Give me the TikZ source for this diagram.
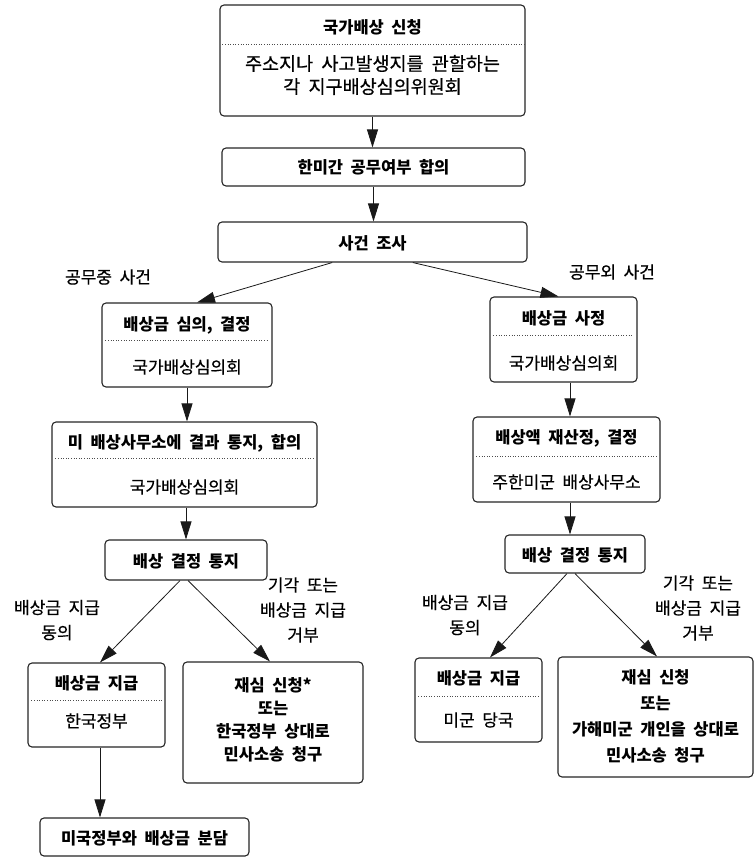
\documentclass[tikz,border=0pt]{standalone}
\usepackage{fontspec}
\setmainfont{Noto Sans CJK KR}[WordSpace=2]
\newfontfamily\medfont{Noto Sans CJK KR}[WordSpace=2,FakeBold=0.5]
\usetikzlibrary{arrows.meta,calc}
\tikzset{
  box/.style={draw=black!85, line width=1.1pt, rounded corners=4pt, inner sep=0pt, fill=white},
  ttl/.style={font=\fontsize{16.5}{20}\selectfont\bfseries, inner sep=0pt, text=black},
  sub/.style={font=\medfont\fontsize{17}{20}\selectfont, inner sep=0pt, text=black},
  lbl/.style={font=\medfont\fontsize{17}{25}\selectfont, align=center, inner sep=0pt, text=black},
  mlt/.style={font=\fontsize{16.5}{23}\selectfont\bfseries, align=center, inner sep=0pt, text=black},
  dotsep/.style={dotted, line width=0.6pt, black!70},
  arr/.style={line width=0.8pt, draw=black!90, -{Triangle[length=18pt,width=11pt]}},
}
\begin{document}
\begin{tikzpicture}[x=1pt,y=-1pt]
\useasboundingbox (0,0) rectangle (755,857);
% boxes
\node[box, minimum width=305pt, minimum height=111pt] (b1) at (372.5,60.5) {};
\node[box, minimum width=303pt, minimum height=38pt] (b2) at (373.5,167) {};
\node[box, minimum width=309pt, minimum height=40pt] (b3) at (372.5,242) {};
\node[box, minimum width=170pt, minimum height=84pt] (b4) at (187,345) {};
\node[box, minimum width=265pt, minimum height=85pt] (b5) at (184.5,464.5) {};
\node[box, minimum width=162pt, minimum height=40pt] (b6) at (186,560) {};
\node[box, minimum width=137pt, minimum height=84pt] (b7) at (96.5,705) {};
\node[box, minimum width=180pt, minimum height=121pt] (b8) at (273,722.5) {};
\node[box, minimum width=209pt, minimum height=38pt] (b9) at (144.5,837) {};
\node[box, minimum width=147pt, minimum height=85pt] (r4) at (563.5,339.5) {};
\node[box, minimum width=187pt, minimum height=85pt] (r5) at (566.5,459.5) {};
\node[box, minimum width=140pt, minimum height=38pt] (r6) at (575,554) {};
\node[box, minimum width=127pt, minimum height=84pt] (r7) at (478.5,700) {};
\node[box, minimum width=195pt, minimum height=120pt] (r8) at (655.5,717) {};
% texts
\node[ttl] (b1t) at (372.5,27) {국가배상 신청};
\node[sub, font=\medfont\fontsize{18.5}{23}\selectfont, align=center] (b1s) at (372.5,75) {주소지나 사고발생지를 관할하는\\각 지구배상심의위원회};
\node[ttl] (b2t) at (373.5,167) {한미간 공무여부 합의};
\node[ttl] (b3t) at (372.5,243) {사건 조사};
\node[ttl] (b4t) at (187,325) {배상금 심의, 결정};
\node[sub] (b4s) at (187,367) {국가배상심의회};
\node[ttl] (b5t) at (184.5,443) {미 배상사무소에 결과 통지, 합의};
\node[sub] (b5s) at (184.5,487) {국가배상심의회};
\node[ttl] (b6t) at (186,561) {배상 결정 통지};
\node[ttl] (b7t) at (96.5,683) {배상금 지급};
\node[sub] (b7s) at (96.5,721) {한국정부};
\node[mlt] (b8t) at (273,720) {재심 신청*\\또는\\한국정부 상대로\\민사소송 청구};
\node[ttl] (b9t) at (144.5,838) {미국정부와 배상금 분담};
\node[ttl] (r4t) at (563.5,318) {배상금 사정};
\node[sub] (r4s) at (563.5,363) {국가배상심의회};
\node[ttl] (r5t) at (566.5,438) {배상액 재산정, 결정};
\node[sub] (r5s) at (566.5,482) {주한미군 배상사무소};
\node[ttl] (r6t) at (575,555) {배상 결정 통지};
\node[ttl] (r7t) at (478.5,678) {배상금 지급};
\node[sub] (r7s) at (478.5,720) {미군 당국};
\node[mlt, font=\fontsize{16.5}{26}\selectfont\bfseries] (r8t) at (655.5,716) {재심 신청\\또는\\가해미군 개인을 상대로\\민사소송 청구};
% dotted separators
\draw[dotsep] ($(b1.north west)+(3,40)$) -- ($(b1.north east)+(0,40)$);
\draw[dotsep] ($(b4.north west)+(4,38)$) -- ($(b4.north east)+(-4,38)$);
\draw[dotsep] ($(b5.north west)+(4,37)$) -- ($(b5.north east)+(-4,37)$);
\draw[dotsep] ($(b7.north west)+(4,38)$) -- ($(b7.north east)+(-4,38)$);
\draw[dotsep] ($(r4.north west)+(4,39)$) -- ($(r4.north east)+(-4,39)$);
\draw[dotsep] ($(r5.north west)+(4,40)$) -- ($(r5.north east)+(-4,40)$);
\draw[dotsep] ($(r7.north west)+(4,39)$) -- ($(r7.north east)+(-4,39)$);
% edge labels
\node[lbl] (l1) at (108,277) {공무중 사건};
\node[lbl] (l2) at (612,272) {공무외 사건};
\node[lbl] (l3) at (57,620) {배상금 지급\\동의};
\node[lbl] (l4) at (303,610) {기각 또는\\배상금 지급\\거부};
\node[lbl] (l5) at (465,615) {배상금 지급\\동의};
\node[lbl] (l6) at (698,608) {기각 또는\\배상금 지급\\거부};
% connectors
\draw[arr] (b1.south) -- (b1.south |- b2.north);
\draw[arr] (b2.south) -- (b2.south |- b3.north);
\draw[arr] ($(b3.south west)!0.37!(b3.south east)$) -- ($(b4.north)+(10,0)$);
\draw[arr] ($(b3.south west)!0.63!(b3.south east)$) -- ($(r4.north)+(-5,0)$);
\draw[arr] (b4.south) -- (b4.south |- b5.north);
\draw[arr] (b6.north |- b5.south) -- (b6.north);
\draw[arr] ($(b6.south)+(-6,0)$) -- ($(b7.north)+(3.5,0)$);
\draw[arr] ($(b6.south)+(2,0)$) -- ($(b8.north)+(-3,0)$);
\draw[arr] ($(b7.south)+(3.5,0)$) -- ($(b9.north)+(-44.5,0)$);
\draw[arr] ($(r4.south)+(6.5,0)$) -- ($(r5.north)+(3.5,0)$);
\draw[arr] ($(r5.south)+(3.5,0)$) -- ($(r6.north)+(-5,0)$);
\draw[arr] ($(r6.south)+(-8,0)$) -- ($(r7.north)+(11.5,0)$);
\draw[arr] ($(r6.south)+(0,0)$) -- ($(r8.north)+(1.5,0)$);
\end{tikzpicture}
\end{document}
